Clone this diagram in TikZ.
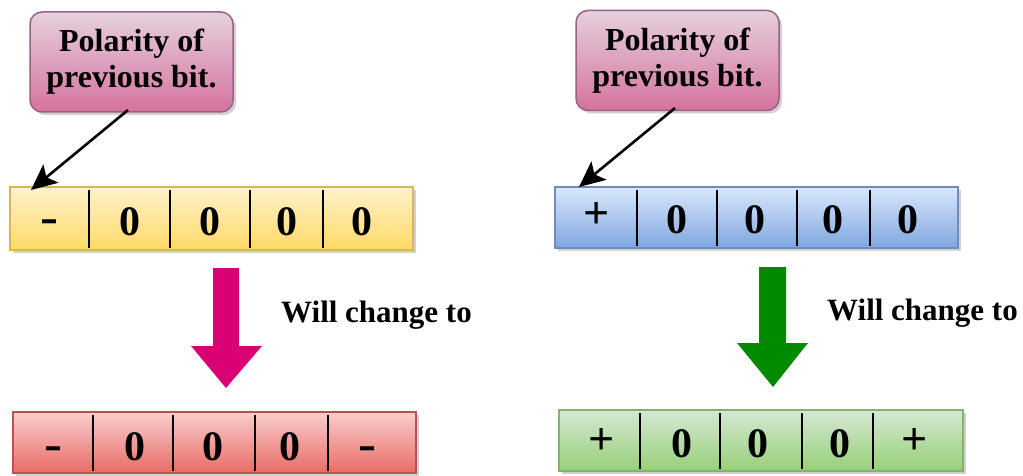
\documentclass[tikz,border=0pt]{standalone}
\usepackage{fontspec}
\setmainfont{Liberation Serif}
\usetikzlibrary{shadows,calc}
\definecolor{pinktop}{HTML}{E6D0DE}
\definecolor{pinkbot}{HTML}{D5739D}
\definecolor{pinkstroke}{HTML}{996185}
\definecolor{ytop}{HTML}{FFF2CC}
\definecolor{ybot}{HTML}{FFD966}
\definecolor{ystroke}{HTML}{D6B656}
\definecolor{btop}{HTML}{DAE8FC}
\definecolor{bbot}{HTML}{7EA6E0}
\definecolor{bstroke}{HTML}{6C8EBF}
\definecolor{rtop}{HTML}{F8CECC}
\definecolor{rbot}{HTML}{EA6B66}
\definecolor{rstroke}{HTML}{B85450}
\definecolor{gtop}{HTML}{D5E8D4}
\definecolor{gbot}{HTML}{97D077}
\definecolor{gstroke}{HTML}{82B366}
\definecolor{magentaarrow}{HTML}{D80073}
\definecolor{greenarrow}{HTML}{008A00}
\begin{document}
\begin{tikzpicture}[x=1pt,y=-1pt,
  myshadow/.style={drop shadow={shadow xshift=3pt,shadow yshift=-3pt,opacity=0.3,fill=black!60}},
  callout/.style={rounded corners=12pt,draw=pinkstroke,line width=1.5pt,top color=pinktop,bottom color=pinkbot,
    minimum width=203pt,minimum height=100pt,align=center,inner sep=0pt,
    font=\fontsize{32}{36}\selectfont\bfseries,myshadow},
  bar/.style n args={3}{draw=#1,line width=1.5pt,top color=#2,bottom color=#3,inner sep=0pt,myshadow},
  divider/.style={line width=2pt,black},
  digit/.style={anchor=base,inner sep=0pt,font=\fontsize{42}{42}\selectfont\bfseries},
  plussign/.style={anchor=center,inner sep=0pt,font=\fontsize{46}{46}\selectfont\bfseries},
  minussign/.style={anchor=base,inner sep=0pt,font=\fontsize{54}{54}\selectfont},
  ptrline/.style={draw=black,line width=2.6pt,shorten >=16pt},
  ptrhead/.style={fill=black},
  changelabel/.style={font=\fontsize{31}{31}\selectfont\bfseries,inner sep=0pt}
]
\useasboundingbox (0,0) rectangle (1023,476);

% ---------- left side ----------
\node[callout] (c1) at (131.5,62) {Polarity of\\previous bit.};
\node[bar={ystroke}{ytop}{ybot},minimum width=403pt,minimum height=63pt] (yb) at (211.5,218.5) {};
\coordinate (ytip) at (31,190);
\coordinate (c1s) at (128,110);
\foreach \x in {89,170,250,323} \draw[divider] (\x,190) -- (\x,248);
\node[minussign] (y1) at (49,234) {-};
\node[digit] (y2) at (130,235) {0};
\node[digit] (y3) at (210,235) {0};
\node[digit] (y4) at (287,235) {0};
\node[digit] (y5) at (362,235) {0};

\fill[magentaarrow] (213,268) -- (239,268) -- (239,346) -- (262,346) -- (226,388) -- (191,346) -- (213,346) -- cycle;
\node[changelabel] (w1) at (376.5,315) {Will change to};

\node[bar={rstroke}{rtop}{rbot},minimum width=403pt,minimum height=61pt] (rb) at (214.5,442.5) {};
\foreach \x in {93,173,255,328} \draw[divider] (\x,415) -- (\x,471);
\node[minussign] (r1) at (53,461) {-};
\node[digit] (r2) at (135,460) {0};
\node[digit] (r3) at (213,460) {0};
\node[digit] (r4) at (290,460) {0};
\node[minussign] (r5) at (367,461) {-};

% ---------- right side ----------
\node[callout] (c2) at (677.5,60.5) {Polarity of\\previous bit.};
\node[bar={bstroke}{btop}{bbot},minimum width=403pt,minimum height=61pt] (bb) at (756.5,217.5) {};
\coordinate (btip) at (579,187);
\coordinate (c2s) at (675,108);
\foreach \x in {637,717,797,870} \draw[divider] (\x,190) -- (\x,246);
\node[plussign] (b1) at (597,216) {+};
\node[digit] (b2) at (677,233) {0};
\node[digit] (b3) at (755,233) {0};
\node[digit] (b4) at (833,233) {0};
\node[digit] (b5) at (908,233) {0};

\fill[greenarrow] (759,267) -- (786,267) -- (786,343) -- (808,343) -- (773,387) -- (737,343) -- (759,343) -- cycle;
\node[changelabel] (w2) at (922.5,313) {Will change to};

\node[bar={gstroke}{gtop}{gbot},minimum width=404pt,minimum height=61pt] (gb) at (761,440.5) {};
\foreach \x in {640,720,802,873} \draw[divider] (\x,413) -- (\x,469);
\node[plussign] (g1) at (602,442) {+};
\node[digit] (g2) at (682,457) {0};
\node[digit] (g3) at (758,457) {0};
\node[digit] (g4) at (840,457) {0};
\node[plussign] (g5) at (915,442) {+};

% pointers with explicit heads
\draw[ptrline] (c1s) -- (ytip);
\fill[ptrhead] (ytip) -- ($(ytip)!28.6pt!24.8:(c1s)$) -- ($(ytip)!20pt!(c1s)$) -- ($(ytip)!28.6pt!-24.8:(c1s)$) -- cycle;
\draw[ptrline] (c2s) -- (btip);
\fill[ptrhead] (btip) -- ($(btip)!28.6pt!24.8:(c2s)$) -- ($(btip)!20pt!(c2s)$) -- ($(btip)!28.6pt!-24.8:(c2s)$) -- cycle;
\end{tikzpicture}
\end{document}
